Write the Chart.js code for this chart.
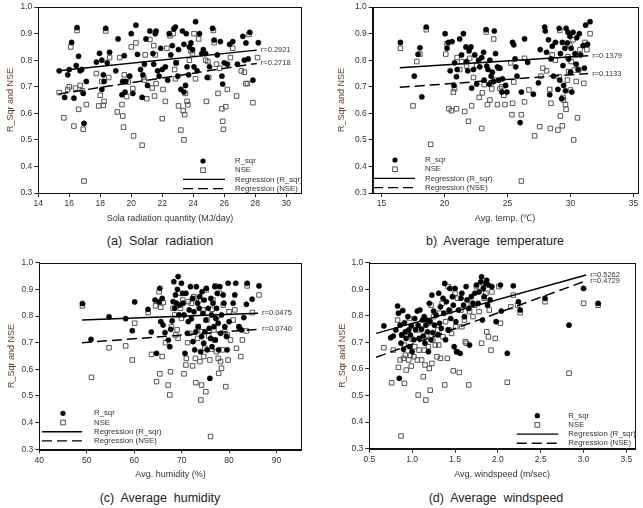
<!DOCTYPE html>
<html>
<head>
<meta charset="utf-8">
<script src="https://cdn.jsdelivr.net/npm/chart.js@4.4.0/dist/chart.umd.min.js"></script>
<style>
  body { margin: 0; width: 643px; height: 508px; background: #fff; position: relative; overflow: hidden;
         font-family: "Liberation Sans", Arial, sans-serif; }
  canvas { position: absolute; }
  .cap { position: absolute; width: 300px; text-align: center; font-size: 12.5px; color: #222;
         white-space: pre; line-height: 14px; }
</style>
</head>
<body>
<canvas id="cA" width="320" height="232" style="left:0px;top:0px"></canvas>
<canvas id="cB" width="323" height="232" style="left:320px;top:0px"></canvas>
<canvas id="cC" width="320" height="232" style="left:0px;top:250px"></canvas>
<canvas id="cD" width="323" height="232" style="left:320px;top:250px"></canvas>
<div class="cap" style="left:10px;top:234px">(a)  Solar  radiation</div>
<div class="cap" style="left:345px;top:234px">b)  Average  temperature</div>
<div class="cap" style="left:10px;top:491px">(c)  Average  humidity</div>
<div class="cap" style="left:346px;top:491px">(d)  Average  windspeed</div>
<script>
// tick labels
const yTicks = [0.3, 0.4, 0.5, 0.6, 0.7, 0.8, 0.9, 1.0];
const solarTicks = [14, 16, 18, 20, 22, 24, 26, 28, 30];
const tempTicks = [15, 20, 25, 30, 35];
const humidTicks = [40, 50, 60, 70, 80, 90];
const windTicks = [0.5, 1.0, 1.5, 2.0, 2.5, 3.0, 3.5];

const seriesNames = ['R_sqr', 'NSE', 'Regression (R_sqr)', 'Regression (NSE)'];

// (a) solar radiation
const solarRsq = [[15.35,0.76],[15.7,0.66],[15.9,0.745],[16.0,0.765],[16.15,0.867],[16.3,0.657],[16.45,0.78],[16.5,0.923],
  [16.6,0.815],[16.7,0.76],[16.8,0.765],[16.9,0.675],[16.95,0.562],[17.1,0.72],[17.75,0.793],[17.95,0.826],[18.1,0.80],
  [18.1,0.69],[18.2,0.745],[18.25,0.72],[18.35,0.92],[18.45,0.79],[18.6,0.83],[19.15,0.88],[19.0,0.76],[19.4,0.67],
  [19.45,0.72],[19.6,0.68],[19.65,0.72],[19.55,0.817],[19.9,0.74],[20.0,0.90],[20.1,0.675],[20.3,0.932],[20.4,0.822],
  [20.6,0.765],[20.7,0.66],[20.75,0.745],[20.85,0.785],[20.95,0.88],[21.05,0.705],[21.2,0.91],[21.4,0.825],[21.45,0.785],
  [21.55,0.90],[21.6,0.91],[21.7,0.76],[21.8,0.74],[21.9,0.845],[22.0,0.765],[22.2,0.775],[22.35,0.725],[22.45,0.90],
  [22.55,0.82],[22.65,0.855],[22.75,0.918],[22.85,0.925],[22.9,0.79],[23.0,0.74],[23.05,0.84],[23.2,0.69],[23.3,0.91],
  [23.4,0.68],[23.4,0.86],[23.5,0.705],[23.55,0.90],[23.6,0.775],[23.7,0.745],[23.75,0.85],[23.85,0.865],[23.95,0.84],
  [24.05,0.775],[24.15,0.945],[24.25,0.76],[24.4,0.90],[24.55,0.825],[24.65,0.84],[24.8,0.825],[24.9,0.735],[25.05,0.775],
  [25.25,0.92],[25.35,0.876],[25.55,0.82],[25.75,0.87],[25.85,0.74],[25.9,0.71],[26.0,0.79],[26.2,0.785],[26.35,0.86],
  [26.55,0.87],[26.85,0.785],[27.2,0.89],[27.3,0.80],[27.4,0.865],[27.55,0.805],[27.65,0.905],[27.85,0.725],[28.2,0.866]];
const solarNse = [[15.35,0.678],[15.65,0.583],[15.9,0.69],[16.0,0.70],[16.1,0.85],[16.3,0.552],[16.4,0.695],[16.5,0.912],
  [16.6,0.615],[16.7,0.705],[16.85,0.685],[16.9,0.54],[16.95,0.345],[17.1,0.633],[17.75,0.75],[17.9,0.628],[18.0,0.668],
  [18.1,0.72],[18.2,0.63],[18.25,0.645],[18.35,0.91],[18.55,0.735],[18.6,0.81],[19.1,0.605],[19.25,0.81],[19.4,0.633],
  [19.45,0.59],[19.5,0.548],[19.55,0.745],[19.7,0.663],[19.8,0.718],[20.0,0.85],[20.1,0.693],[20.15,0.515],[20.3,0.865],
  [20.7,0.48],[20.8,0.735],[20.85,0.725],[20.9,0.82],[21.0,0.655],[21.2,0.878],[21.35,0.695],[21.45,0.855],[21.5,0.665],
  [21.55,0.82],[21.6,0.712],[22.0,0.58],[22.05,0.69],[22.2,0.645],[22.3,0.845],[22.5,0.892],[22.7,0.90],[22.8,0.765],
  [22.85,0.73],[22.9,0.79],[23.05,0.628],[23.2,0.537],[23.35,0.61],[23.4,0.50],[23.45,0.595],[23.5,0.675],[23.6,0.645],
  [23.65,0.632],[23.75,0.80],[23.85,0.835],[23.95,0.825],[24.05,0.90],[24.15,0.73],[24.35,0.88],[24.8,0.80],[24.85,0.645],
  [24.95,0.795],[25.0,0.735],[25.3,0.912],[25.35,0.866],[25.5,0.785],[25.6,0.675],[25.7,0.77],[25.85,0.617],[25.9,0.57],
  [25.95,0.54],[26.1,0.625],[26.2,0.69],[26.4,0.81],[26.55,0.845],[26.8,0.665],[27.1,0.76],[27.3,0.755],[27.4,0.712],
  [27.5,0.712],[27.6,0.897],[27.85,0.64],[28.15,0.81]];
const solarFitRsq = [[15.3,0.76],[28.1,0.838]];
const solarFitNse = [[15.3,0.673],[28.1,0.788]];
const solarR = ['r=0.2921', 'r=0.2718'];

// (b) average temperature
const tempRsq = [[16.5,0.867],[17.6,0.74],[17.9,0.822],[18.05,0.847],[18.2,0.662],[18.55,0.925],[20.05,0.90],[20.2,0.845],
  [20.3,0.867],[20.45,0.76],[20.6,0.87],[20.75,0.705],[20.8,0.79],[20.95,0.738],[21.0,0.765],[21.2,0.88],[21.35,0.82],
  [21.5,0.90],[21.7,0.85],[21.75,0.795],[21.85,0.76],[21.95,0.835],[22.1,0.85],[22.15,0.695],[22.3,0.765],[22.4,0.82],
  [22.55,0.71],[22.7,0.80],[22.8,0.775],[22.95,0.81],[23.1,0.83],[23.15,0.725],[23.3,0.915],[23.35,0.778],[23.45,0.765],
  [23.55,0.71],[23.6,0.80],[23.7,0.74],[23.8,0.755],[23.9,0.72],[23.95,0.91],[24.05,0.825],[24.2,0.775],[24.3,0.725],
  [24.4,0.77],[24.55,0.68],[24.6,0.73],[24.85,0.705],[24.95,0.68],[25.4,0.867],[25.5,0.858],[25.6,0.805],[25.65,0.775],
  [25.75,0.74],[26.0,0.565],[26.1,0.68],[26.35,0.88],[26.6,0.792],[27.05,0.672],[27.45,0.715],[27.6,0.84],[27.95,0.925],
  [28.0,0.91],[28.1,0.83],[28.25,0.877],[28.35,0.67],[28.45,0.805],[28.55,0.853],[28.65,0.74],[28.8,0.867],[29.0,0.69],
  [29.1,0.92],[29.15,0.725],[29.2,0.825],[29.3,0.655],[29.35,0.867],[29.4,0.78],[29.45,0.705],[29.55,0.845],[29.6,0.685],
  [29.65,0.92],[29.75,0.865],[29.8,0.905],[29.85,0.805],[29.95,0.89],[30.0,0.755],[30.05,0.845],[30.1,0.68],[30.2,0.905],
  [30.35,0.825],[30.45,0.785],[30.5,0.885],[30.6,0.765],[30.7,0.90],[30.8,0.82],[31.0,0.855],[31.1,0.77],[31.2,0.932],
  [31.35,0.86],[31.55,0.945]];
const tempNse = [[16.5,0.845],[17.5,0.628],[17.8,0.795],[18.05,0.823],[18.55,0.915],[18.9,0.483],[20.1,0.823],[20.2,0.862],
  [20.35,0.617],[20.55,0.61],[20.7,0.68],[20.8,0.693],[20.95,0.617],[21.0,0.81],[21.2,0.765],[21.35,0.795],[21.6,0.607],
  [21.75,0.778],[21.9,0.57],[22.0,0.807],[22.15,0.628],[22.3,0.735],[22.55,0.78],[22.75,0.66],[22.95,0.543],[23.0,0.677],
  [23.15,0.708],[23.3,0.906],[23.4,0.633],[23.6,0.65],[23.7,0.715],[23.75,0.692],[23.9,0.88],[24.0,0.725],[24.2,0.633],
  [24.3,0.77],[24.4,0.693],[24.55,0.70],[24.7,0.668],[24.8,0.633],[25.25,0.79],[25.35,0.595],[25.4,0.638],[25.5,0.718],
  [26.1,0.595],[26.1,0.345],[26.35,0.807],[26.35,0.643],[26.7,0.688],[27.15,0.515],[27.55,0.55],[27.65,0.74],[27.8,0.77],
  [28.1,0.76],[28.35,0.69],[28.4,0.543],[28.45,0.638],[28.55,0.82],[28.8,0.80],[29.0,0.537],[29.1,0.738],[29.15,0.912],
  [29.2,0.59],[29.35,0.553],[29.4,0.66],[29.45,0.65],[29.6,0.633],[29.65,0.615],[29.75,0.725],[29.8,0.813],[29.85,0.757],
  [29.95,0.857],[30.0,0.688],[30.05,0.795],[30.2,0.877],[30.25,0.50],[30.3,0.763],[30.4,0.82],[30.45,0.72],[30.55,0.583],
  [30.65,0.763],[30.75,0.84],[31.05,0.713],[31.15,0.867],[31.3,0.84],[31.55,0.90]];
const tempFitRsq = [[16.45,0.772],[31.4,0.817]];
const tempFitNse = [[16.45,0.698],[31.4,0.75]];
const tempR = ['r=0.1379', 'r=0.1133'];

// (c) average humidity
const humidRsq = [[49.1,0.847],[50.9,0.712],[54.7,0.797],[58.2,0.79],[59.6,0.745],[60.1,0.853],[62.9,0.825],[63.6,0.74],
  [64.4,0.86],[64.7,0.66],[65.3,0.853],[65.4,0.904],[65.6,0.779],[65.9,0.866],[66.1,0.766],[66.5,0.738],[67.2,0.71],
  [67.5,0.685],[67.7,0.75],[68.0,0.782],[68.2,0.854],[68.35,0.929],[68.55,0.829],[68.7,0.879],[68.9,0.848],[69.1,0.90],
  [69.25,0.948],[69.45,0.804],[69.6,0.841],[69.95,0.923],[70.2,0.885],[70.3,0.848],[70.5,0.804],[70.7,0.66],[70.9,0.885],
  [71.2,0.735],[71.4,0.779],[71.6,0.823],[71.85,0.91],[72.05,0.79],[72.3,0.866],[72.4,0.704],[72.6,0.816],[72.75,0.673],
  [73.0,0.741],[73.1,0.91],[73.35,0.848],[73.5,0.76],[73.7,0.829],[73.8,0.873],[74.0,0.666],[74.2,0.723],[74.3,0.891],
  [74.5,0.81],[74.65,0.698],[74.75,0.86],[74.9,0.741],[75.1,0.785],[75.2,0.904],[75.35,0.673],[75.6,0.829],[75.8,0.754],
  [75.95,0.566],[76.1,0.716],[76.15,0.866],[76.3,0.804],[76.4,0.685],[76.6,0.848],[76.8,0.76],[77.0,0.91],[77.1,0.71],
  [77.2,0.791],[77.35,0.829],[77.5,0.885],[77.7,0.773],[77.8,0.673],[78.05,0.91],[78.2,0.735],[78.4,0.804],[78.75,0.879],
  [78.9,0.848],[79.1,0.76],[79.45,0.723],[79.6,0.673],[79.8,0.923],[80.0,0.779],[80.85,0.848],[81.2,0.879],[81.4,0.923],
  [82.1,0.76],[82.6,0.748],[83.1,0.794],[83.65,0.844],[83.8,0.923],[84.85,0.863],[86.3,0.913]];
const humidNse = [[49.1,0.838],[51.0,0.57],[54.7,0.681],[58.2,0.688],[59.6,0.635],[60.1,0.773],[62.95,0.813],[63.65,0.656],
  [64.5,0.838],[64.7,0.554],[65.25,0.891],[65.4,0.583],[65.6,0.833],[65.9,0.648],[66.1,0.85],[66.6,0.70],[67.15,0.541],
  [67.5,0.504],[67.65,0.591],[67.85,0.76],[68.2,0.829],[68.55,0.804],[68.75,0.729],[69.05,0.748],[69.25,0.716],[69.45,0.885],
  [69.75,0.829],[69.95,0.791],[70.2,0.86],[70.5,0.583],[70.9,0.616],[71.0,0.641],[71.25,0.70],[71.4,0.854],[71.7,0.735],
  [72.05,0.848],[72.3,0.613],[72.55,0.873],[72.9,0.641],[73.0,0.55],[73.1,0.866],[73.35,0.716],[73.5,0.76],[73.7,0.86],
  [73.85,0.629],[74.05,0.485],[74.2,0.541],[74.3,0.741],[74.5,0.823],[74.65,0.648],[74.9,0.679],[75.1,0.516],[75.2,0.898],
  [75.35,0.785],[75.7,0.725],[75.95,0.635],[76.1,0.348],[76.3,0.675],[76.4,0.825],[76.6,0.86],[76.8,0.748],[77.0,0.71],
  [77.1,0.913],[77.35,0.666],[77.45,0.798],[77.7,0.641],[77.8,0.585],[78.05,0.885],[78.2,0.629],[78.4,0.604],[78.6,0.673],
  [78.75,0.841],[79.1,0.741],[79.3,0.535],[79.6,0.729],[79.8,0.635],[80.0,0.816],[80.3,0.71],[80.85,0.785],[81.2,0.823],
  [81.55,0.679],[82.1,0.758],[82.45,0.648],[82.8,0.71],[83.65,0.744],[83.8,0.913],[84.9,0.813],[86.3,0.879]];
const humidFitRsq = [[49.0,0.785],[86.1,0.81]];
const humidFitNse = [[49.0,0.70],[86.1,0.75]];
const humidR = ['r=0.0475', 'r=0.0740'];

// (d) average windspeed
const windRsq = [[0.67,0.762],[0.75,0.718],[0.78,0.724],[0.81,0.747],[0.83,0.837],[0.84,0.81],[0.85,0.565],[0.86,0.765],
  [0.87,0.697],[0.88,0.728],[0.89,0.82],[0.90,0.674],[0.91,0.774],[0.92,0.74],[0.93,0.715],[0.95,0.797],[0.96,0.747],
  [0.97,0.684],[0.98,0.728],[0.99,0.762],[1.0,0.665],[1.02,0.71],[1.03,0.79],[1.04,0.747],[1.06,0.818],[1.07,0.765],
  [1.08,0.715],[1.09,0.822],[1.11,0.75],[1.12,0.784],[1.13,0.724],[1.14,0.797],[1.15,0.697],[1.16,0.765],[1.17,0.784],
  [1.18,0.74],[1.19,0.665],[1.20,0.847],[1.21,0.778],[1.22,0.71],[1.23,0.878],[1.24,0.737],[1.25,0.818],[1.26,0.765],
  [1.28,0.803],[1.30,0.728],[1.31,0.885],[1.32,0.772],[1.33,0.834],[1.34,0.753],[1.36,0.866],[1.37,0.81],[1.38,0.922],
  [1.39,0.71],[1.40,0.853],[1.42,0.747],[1.43,0.822],[1.44,0.903],[1.45,0.79],[1.47,0.872],[1.48,0.84],[1.49,0.684],
  [1.50,0.903],[1.51,0.778],[1.52,0.665],[1.54,0.822],[1.56,0.659],[1.57,0.866],[1.58,0.885],[1.60,0.84],[1.61,0.797],
  [1.63,0.91],[1.64,0.86],[1.66,0.828],[1.67,0.69],[1.69,0.872],[1.71,0.847],[1.73,0.885],[1.75,0.916],[1.77,0.847],
  [1.78,0.89],[1.80,0.928],[1.81,0.947],[1.82,0.784],[1.83,0.903],[1.84,0.872],[1.86,0.922],[1.87,0.934],[1.88,0.84],
  [1.89,0.916],[1.91,0.86],[1.93,0.91],[1.98,0.778],[2.03,0.916],[2.04,0.818],[2.11,0.659],[2.18,0.913],[2.24,0.853],
  [2.26,0.822],[2.55,0.866],[2.83,0.765],[3.0,0.903],[3.17,0.847]];
const windNse = [[0.67,0.68],[0.76,0.548],[0.78,0.671],[0.83,0.784],[0.84,0.606],[0.86,0.634],[0.87,0.348],[0.88,0.728],
  [0.90,0.64],[0.91,0.546],[0.91,0.69],[0.92,0.652],[0.93,0.596],[0.94,0.74],[0.96,0.634],[0.97,0.79],[0.98,0.652],
  [0.99,0.611],[1.0,0.712],[1.02,0.646],[1.03,0.684],[1.04,0.765],[1.06,0.634],[1.07,0.502],[1.08,0.671],[1.09,0.747],
  [1.11,0.634],[1.12,0.715],[1.13,0.571],[1.14,0.671],[1.15,0.615],[1.16,0.483],[1.17,0.728],[1.18,0.772],[1.19,0.684],
  [1.20,0.602],[1.21,0.52],[1.22,0.84],[1.23,0.621],[1.24,0.709],[1.25,0.797],[1.27,0.69],[1.29,0.646],[1.30,0.747],
  [1.31,0.69],[1.32,0.81],[1.33,0.64],[1.35,0.847],[1.36,0.721],[1.38,0.54],[1.39,0.778],[1.41,0.64],[1.42,0.91],
  [1.43,0.747],[1.44,0.816],[1.46,0.734],[1.48,0.593],[1.50,0.885],[1.51,0.759],[1.52,0.665],[1.53,0.866],[1.55,0.587],
  [1.57,0.822],[1.58,0.759],[1.61,0.784],[1.62,0.703],[1.63,0.697],[1.66,0.54],[1.67,0.816],[1.69,0.847],[1.71,0.797],
  [1.73,0.84],[1.75,0.91],[1.78,0.816],[1.81,0.697],[1.83,0.922],[1.84,0.866],[1.86,0.885],[1.87,0.74],[1.89,0.721],
  [1.90,0.822],[1.92,0.671],[1.93,0.89],[1.97,0.715],[2.01,0.91],[2.03,0.772],[2.11,0.55],[2.15,0.834],[2.18,0.878],
  [2.23,0.84],[2.26,0.812],[2.55,0.853],[2.83,0.584],[3.0,0.847],[3.17,0.84]];
const windFitRsq = [[0.58,0.734],[3.03,0.954]];
const windFitNse = [[0.58,0.644],[3.03,0.932]];
const windR = ['r=0.5262', 'r=0.4729'];

const FONT = '"Liberation Sans", Arial, sans-serif';
const toXY = arr => arr.map(p => ({ x: p[0], y: p[1] }));

// draws the frame, the r labels and the in-plot legend
const panelDecor = {
  id: 'panelDecor',
  afterDatasetsDraw(chart, args, o) {
    const { ctx, chartArea: a, scales: { x, y } } = chart;
    ctx.save();
    ctx.strokeStyle = '#111';
    ctx.lineWidth = 1;
    ctx.strokeRect(Math.round(a.left) + 0.5, Math.round(a.top) + 0.5,
      Math.round(a.right - a.left), Math.round(a.bottom - a.top));

    ctx.font = '7.5px ' + FONT;
    ctx.fillStyle = '#333';
    ctx.textBaseline = 'middle';
    ctx.textAlign = 'left';
    [o.fitRsq, o.fitNse].forEach((fit, i) => {
      const p = fit[fit.length - 1];
      ctx.fillText(o.rLabels[i], x.getPixelForValue(p[0]) + 4, y.getPixelForValue(p[1]));
    });

    const L = o.legend;
    ctx.font = '7.8px ' + FONT;
    seriesNames.forEach((name, i) => {
      const ry = L.y + i * 9.2;
      ctx.fillStyle = '#333';
      ctx.fillText(name, L.tx, ry);
      if (i === 0) {
        ctx.fillStyle = '#000';
        ctx.beginPath();
        ctx.arc(L.mx, ry, 2.6, 0, Math.PI * 2);
        ctx.fill();
      } else if (i === 1) {
        ctx.strokeStyle = '#555';
        ctx.lineWidth = 1;
        ctx.strokeRect(L.mx - 2.3, ry - 2.3, 4.6, 4.6);
      } else {
        ctx.strokeStyle = '#000';
        ctx.lineWidth = 1.4;
        ctx.setLineDash(i === 3 ? [10, 5] : []);
        ctx.beginPath();
        ctx.moveTo(L.l1, ry);
        ctx.lineTo(L.l2, ry);
        ctx.stroke();
        ctx.setLineDash([]);
      }
    });
    ctx.restore();
  }
};

function makePanel(id, p) {
  const canvas = document.getElementById(id);
  new Chart(canvas, {
    type: 'scatter',
    data: {
      datasets: [
        { label: 'R_sqr', data: toXY(p.rsq), pointStyle: 'circle', pointRadius: 2.6,
          backgroundColor: '#000', borderColor: '#000', borderWidth: 0.5, order: 1 },
        { label: 'NSE', data: toXY(p.nse), pointStyle: 'rect', pointRadius: 3.2,
          backgroundColor: 'rgba(255,255,255,0)', borderColor: '#555', borderWidth: 1, order: 2 },
        { label: 'Regression (R_sqr)', data: toXY(p.fitRsq), showLine: true, pointRadius: 0,
          borderColor: '#000', borderWidth: 1.5, order: 0 },
        { label: 'Regression (NSE)', data: toXY(p.fitNse), showLine: true, pointRadius: 0,
          borderColor: '#000', borderWidth: 1.5, borderDash: [10, 5], order: 0 }
      ]
    },
    options: {
      responsive: false,
      animation: false,
      devicePixelRatio: 1,
      events: [],
      layout: { padding: { left: 0, top: p.box.top, right: canvas.width - p.box.right, bottom: 0 } },
      plugins: {
        legend: { display: false },
        tooltip: { enabled: false },
        panelDecor: { fitRsq: p.fitRsq, fitNse: p.fitNse, rLabels: p.rLabels, legend: p.legend }
      },
      scales: {
        x: {
          type: 'linear', position: 'bottom', min: p.xMin, max: p.xMax,
          afterBuildTicks: s => { s.ticks = p.xTicks.map(v => ({ value: v })); },
          afterFit: s => { s.height = canvas.height - p.box.bottom; },
          ticks: { font: { family: FONT, size: 8.5 }, color: '#333', padding: 2,
                   callback: v => p.xDec ? Number(v).toFixed(p.xDec) : v },
          grid: { drawOnChartArea: false, drawTicks: true, tickLength: 4, color: '#222' },
          border: { display: true, color: '#111', width: 1 },
          title: { display: true, text: p.xTitle, color: '#333',
                   font: { family: FONT, size: 9 }, padding: { top: 0, bottom: p.xTitlePad } }
        },
        y: {
          type: 'linear', position: 'left', min: 0.3, max: 1.0,
          afterBuildTicks: s => { s.ticks = yTicks.map(v => ({ value: v })); },
          afterFit: s => { s.width = p.box.left; },
          ticks: { font: { family: FONT, size: 8.5 }, color: '#333', padding: 2,
                   callback: v => Number(v).toFixed(1) },
          grid: { drawOnChartArea: false, drawTicks: true, tickLength: 4, color: '#222' },
          border: { display: true, color: '#111', width: 1 },
          title: { display: true, text: 'R_Sqr and NSE', color: '#6b3b2b',
                   font: { family: FONT, size: 9 }, padding: { top: p.yTitlePad, bottom: 0 } }
        }
      }
    },
    plugins: [panelDecor]
  });
}

makePanel('cA', {
  rsq: solarRsq, nse: solarNse, fitRsq: solarFitRsq, fitNse: solarFitNse, rLabels: solarR,
  xTicks: solarTicks, xMin: 14, xMax: 31, xTitle: 'Sola radiation quantity (MJ/day)',
  box: { left: 38.3, top: 7, right: 301.7, bottom: 193 }, xTitlePad: 7.6, yTitlePad: 5.6,
  legend: { mx: 203, tx: 235, l1: 183, l2: 225, y: 161 }
});
makePanel('cB', {
  rsq: tempRsq, nse: tempNse, fitRsq: tempFitRsq, fitNse: tempFitNse, rLabels: tempR,
  xTicks: tempTicks, xMin: 14.3, xMax: 35.3, xTitle: 'Avg. temp. (\u2103)',
  box: { left: 52.7, top: 7, right: 317.3, bottom: 193 }, xTitlePad: 7.6, yTitlePad: 16.3,
  legend: { mx: 75, tx: 105, l1: 53, l2: 95, y: 160 }
});
makePanel('cC', {
  rsq: humidRsq, nse: humidNse, fitRsq: humidFitRsq, fitNse: humidFitNse, rLabels: humidR,
  xTicks: humidTicks, xMin: 40, xMax: 95.3, xTitle: 'Avg. humidity (%)',
  box: { left: 39.3, top: 12.7, right: 301.7, bottom: 199.3 }, xTitlePad: 1.6, yTitlePad: 6.3,
  legend: { mx: 63, tx: 94, l1: 42, l2: 82, y: 163.3 }
});
makePanel('cD', {
  rsq: windRsq, nse: windNse, fitRsq: windFitRsq, fitNse: windFitNse, rLabels: windR,
  xTicks: windTicks, xMin: 0.5, xMax: 3.6, xDec: 1, xTitle: 'Avg. windspeed (m/sec)',
  box: { left: 49.3, top: 12.7, right: 315, bottom: 198.7 }, xTitlePad: 1.6, yTitlePad: 17.3,
  legend: { mx: 217.3, tx: 248.3, l1: 196.7, l2: 238.3, y: 165.7 }
});
</script>
</body>
</html>
